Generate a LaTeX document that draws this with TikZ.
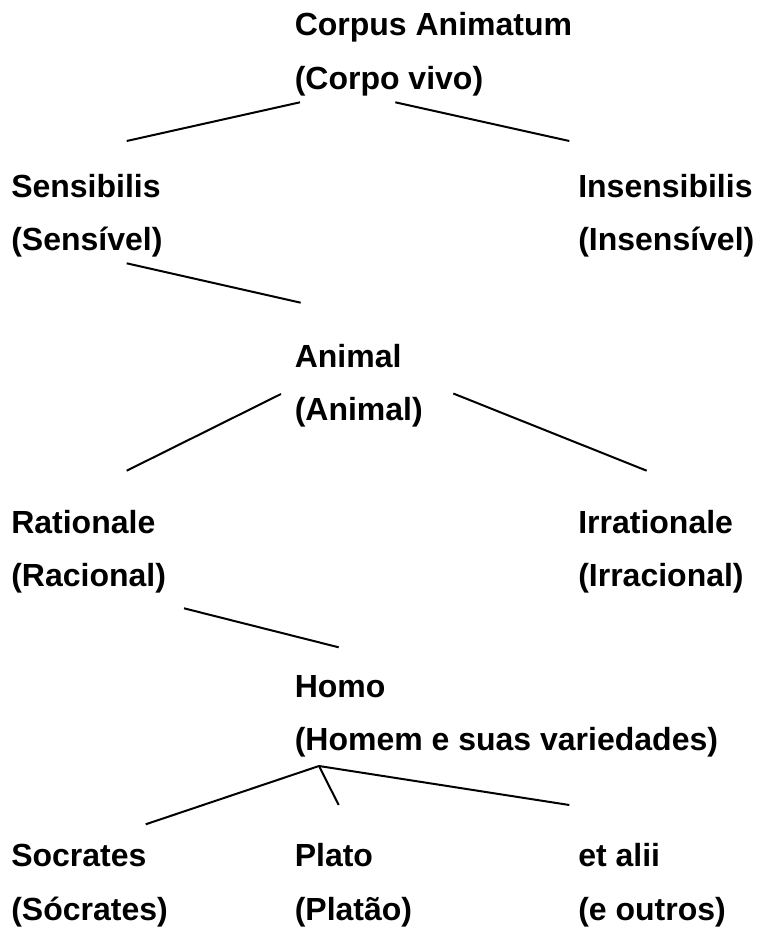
\documentclass[tikz,border=0pt]{standalone}
\usepackage{fontspec}
\setmainfont{Liberation Sans}
\begin{document}
\begin{tikzpicture}[x=0.75pt,y=-0.75pt,
  lbl/.style={anchor=base west,inner sep=0pt,font=\fontsize{24}{28}\selectfont\bfseries},
  conn/.style={line width=1.5pt,black}]
\useasboundingbox[fill=white] (0,0) rectangle (757,928);
% labels
\node[lbl] (ca1) at (294.5,36) {Corpus Animatum};
\node[lbl] (ca2) at (294.5,89.5) {(Corpo vivo)};
\node[lbl] (se1) at (11,197.3) {Sensibilis};
\node[lbl] (se2) at (11,250.8) {(Sensível)};
\node[lbl] (in1) at (578,197.3) {Insensibilis};
\node[lbl] (in2) at (578,250.8) {(Insensível)};
\node[lbl] (an1) at (294.5,367.3) {Animal};
\node[lbl] (an2) at (294.5,420.8) {(Animal)};
\node[lbl] (ra1) at (11,533.3) {Rationale};
\node[lbl] (ra2) at (11,586.8) {(Racional)};
\node[lbl] (ir1) at (578,533.3) {Irrationale};
\node[lbl] (ir2) at (578,586.8) {(Irracional)};
\node[lbl] (ho1) at (294.5,697.3) {Homo};
\node[lbl] (ho2) at (294.5,750.8) {(Homem e suas variedades)};
\node[lbl] (so1) at (11,866.5) {Socrates};
\node[lbl] (so2) at (11,920) {(Sócrates)};
\node[lbl] (pl1) at (294.5,866.5) {Plato};
\node[lbl] (pl2) at (294.5,920) {(Platão)};
\node[lbl] (et1) at (578,866.5) {et alii};
\node[lbl] (et2) at (578,920) {(e outros)};
% connector ends
\coordinate (caL) at (300,102.3);
\coordinate (caR) at (395.3,102.3);
\coordinate (seT) at (126.7,141);
\coordinate (inT) at (569.3,141);
\coordinate (seB) at (126.7,263.3);
\coordinate (anT) at (300.7,302.7);
\coordinate (anL) at (281,394);
\coordinate (anR) at (453.3,393.5);
\coordinate (raT) at (126.7,470.7);
\coordinate (irT) at (646.7,470.7);
\coordinate (raB) at (184,608.3);
\coordinate (hoT) at (338.7,647.3);
\coordinate (hoB) at (319,766);
\coordinate (soT) at (145.7,824.3);
\coordinate (plT) at (338.7,805);
\coordinate (etT) at (569.3,805);
% connectors
\draw[conn] (caL) -- (seT);
\draw[conn] (caR) -- (inT);
\draw[conn] (seB) -- (anT);
\draw[conn] (anL) -- (raT);
\draw[conn] (anR) -- (irT);
\draw[conn] (raB) -- (hoT);
\draw[conn] (hoB) -- (soT);
\draw[conn] (hoB) -- (plT);
\draw[conn] (hoB) -- (etT);
\end{tikzpicture}
\end{document}
